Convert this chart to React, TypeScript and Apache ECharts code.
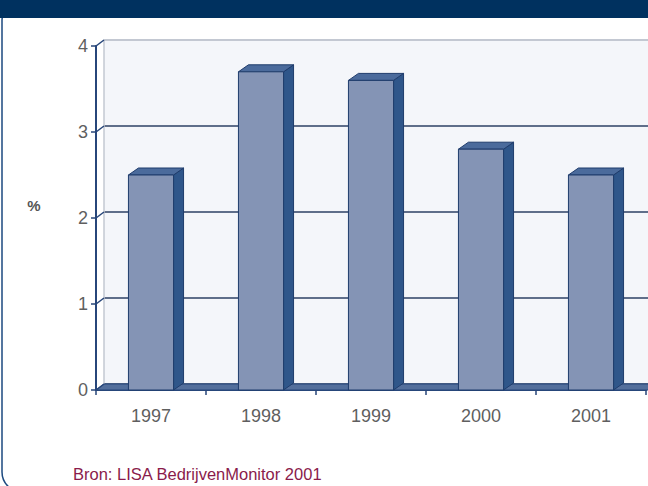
import React, { useEffect, useRef } from "react";
import * as echarts from "echarts";

const years = ["1997", "1998", "1999", "2000", "2001"];
const values = [2.5, 3.7, 3.6, 2.8, 2.5];
const yTicks = [0, 1, 2, 3, 4];
const yAxisName = "%";
const sourceNote = "Bron: LISA BedrijvenMonitor 2001";

// depth offsets of the pseudo-3D look
const WALL_DX = 8;
const WALL_DY = -6;
const BAR_DX = 10;
const BAR_DY = -7;

const NAVY = "#27467a";
const LABEL = "#5f5f5f";
const FONT = "Liberation Sans, Arial, sans-serif";

export default function App() {
  const ref = useRef<HTMLDivElement>(null);

  useEffect(() => {
    const chart = echarts.init(ref.current!, null, { renderer: "svg" });

    chart.setOption({
      animation: false,
      backgroundColor: "#ffffff",
      grid: [
        { left: 96, right: 2, top: 46, bottom: 96 },
        {
          left: 104,
          right: -6,
          top: 40,
          bottom: 102,
          show: true,
          backgroundColor: "#f4f6fa",
          borderWidth: 0,
        },
      ],
      xAxis: [
        {
          type: "category",
          gridIndex: 0,
          data: years,
          axisLine: { lineStyle: { color: NAVY, width: 2 } },
          axisTick: { show: true, length: 5, lineStyle: { color: NAVY, width: 1.5 } },
          axisLabel: { fontSize: 18, color: LABEL, margin: 17, fontFamily: FONT },
          splitLine: { show: false },
        },
        {
          type: "category",
          gridIndex: 1,
          data: years,
          show: false,
        },
      ],
      yAxis: [
        {
          type: "value",
          gridIndex: 0,
          min: 0,
          max: 4,
          interval: 1,
          axisLine: { show: true, lineStyle: { color: NAVY, width: 2 } },
          axisTick: { show: true, length: 5, lineStyle: { color: NAVY, width: 1.5 } },
          axisLabel: { fontSize: 18, color: LABEL, margin: 8, fontFamily: FONT },
          splitLine: { show: false },
        },
        {
          type: "value",
          gridIndex: 1,
          min: 0,
          max: 4,
          interval: 1,
          axisLine: { show: true, lineStyle: { color: "#c3c8d2", width: 1.5 } },
          axisTick: { show: false },
          axisLabel: { show: false },
          splitLine: {
            show: true,
            lineStyle: {
              color: ["#5f6e8a", "#5f6e8a", "#5f6e8a", "#5f6e8a", "#c3c8d2"],
              width: 2,
            },
          },
        },
      ],
      series: [
        {
          type: "custom",
          name: "decor",
          xAxisIndex: 0,
          yAxisIndex: 0,
          clip: false,
          silent: true,
          z: 3,
          data: yTicks.map((v) => [0, v]),
          encode: { x: 0, y: 1 },
          renderItem: (params: any, api: any) => {
            const v = api.value(1);
            const p = api.coord([0, v]);
            const cs = params.coordSys;
            const x0 = cs.x;
            const y = p[1];
            const children: any[] = [];
            if (v === 0) {
              children.push({
                type: "polygon",
                shape: {
                  points: [
                    [x0, y],
                    [x0 + cs.width + WALL_DX, y],
                    [x0 + cs.width + WALL_DX, y + WALL_DY],
                    [x0 + WALL_DX, y + WALL_DY],
                  ],
                },
                style: { fill: "#536f9c", stroke: NAVY, lineWidth: 1 },
              });
            }
            children.push({
              type: "line",
              shape: { x1: x0, y1: y, x2: x0 + WALL_DX, y2: y + WALL_DY },
              style: { stroke: NAVY, lineWidth: 1.5 },
            });
            return { type: "group", children };
          },
        },
        {
          type: "custom",
          name: "bars",
          xAxisIndex: 0,
          yAxisIndex: 0,
          clip: false,
          z: 4,
          data: values.map((v, i) => [i, v]),
          encode: { x: 0, y: 1 },
          renderItem: (params: any, api: any) => {
            const i = api.value(0);
            const v = api.value(1);
            const top = api.coord([i, v]);
            const base = api.coord([i, 0]);
            const w = api.size([1, 0])[0] * 0.41;
            const x1 = top[0] - w / 2;
            const x2 = top[0] + w / 2;
            const yt = top[1];
            const yb = base[1];
            return {
              type: "group",
              children: [
                {
                  type: "polygon",
                  shape: {
                    points: [
                      [x2, yt],
                      [x2 + BAR_DX, yt + BAR_DY],
                      [x2 + BAR_DX, yb + BAR_DY],
                      [x2, yb],
                    ],
                  },
                  style: { fill: "#2f568a", stroke: "#1f3c6c", lineWidth: 1 },
                },
                {
                  type: "polygon",
                  shape: {
                    points: [
                      [x1, yt],
                      [x1 + BAR_DX, yt + BAR_DY],
                      [x2 + BAR_DX, yt + BAR_DY],
                      [x2, yt],
                    ],
                  },
                  style: { fill: "#4b6b9c", stroke: "#1f3c6c", lineWidth: 1 },
                },
                {
                  type: "rect",
                  shape: { x: x1, y: yt, width: w, height: yb - yt },
                  style: { fill: "#8494b5", stroke: "#1f3c6c", lineWidth: 1 },
                },
              ],
            };
          },
        },
      ],
      graphic: [
        {
          type: "rect",
          z: 10,
          shape: { x: 2, y: 0, width: 700, height: 492, r: 20 },
          style: { fill: "none", stroke: "#1d4a80", lineWidth: 1.5 },
        },
        {
          type: "rect",
          z: 11,
          shape: { x: 0, y: 0, width: 648, height: 18 },
          style: { fill: "#00315f" },
        },
        {
          type: "text",
          z: 11,
          x: 34,
          y: 205,
          style: {
            text: yAxisName,
            fill: "#555",
            fontSize: 15,
            fontWeight: "bold",
            fontFamily: FONT,
            align: "center",
            verticalAlign: "middle",
          },
        },
        {
          type: "text",
          z: 11,
          x: 73,
          y: 474,
          style: {
            text: sourceNote,
            fill: "#8a1b4b",
            fontSize: 16.5,
            fontFamily: FONT,
            verticalAlign: "middle",
          },
        },
      ],
    });

    return () => chart.dispose();
  }, []);

  return (
    <div
      ref={ref}
      style={{ position: "fixed", left: 0, top: 0, width: 648, height: 486 }}
    />
  );
}
